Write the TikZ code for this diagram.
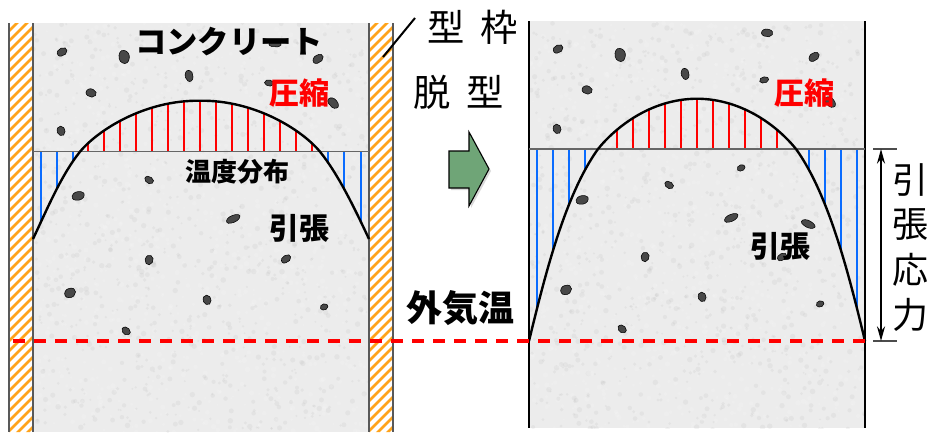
\documentclass[tikz,border=0pt]{standalone}
\usepackage{fontspec}
\usetikzlibrary{arrows.meta}
\setmainfont{Noto Sans CJK JP}
\definecolor{concrete}{HTML}{ECECEC}
\definecolor{stonefill}{HTML}{484848}
\definecolor{hatchorange}{HTML}{FFA31A}
\definecolor{arrowgreen}{HTML}{6FA577}
\definecolor{compblue}{HTML}{0A6CFF}
\tikzset{
  labelbig/.style={inner sep=0pt,font=\fontsize{28}{28}\selectfont},
  labelbold/.style={inner sep=0pt,font=\bfseries\fontsize{22.5}{22.5}\selectfont},
  redlabel/.style={labelbold,text=red},
  redtick/.style={red,line width=1.7},
  bluetick/.style={compblue,line width=1.7},
  tempcurve/.style={black,line width=1.8},
  zeroline/.style={black!60,line width=1},
  outerair/.style={red,line width=2.5,dash pattern=on 9pt off 6.75pt},
  wallline/.style={black,line width=1.6},
}
\newcommand{\stone}[5]{\fill[stonefill,draw=black,line width=0.4,shift={(#1,#2)},rotate={-1*(#5)},xscale=#3,yscale=#4] plot[smooth cycle,tension=0.8] coordinates {(-1,0.15)(-0.65,-0.8)(0.2,-1)(0.95,-0.5)(1,0.3)(0.4,0.95)(-0.5,0.85)};}
\newcommand{\speckle}[4]{%
  \pgfmathsetseed{#4}%
  \foreach \i in {1,...,2000}{%
    \pgfmathsetmacro{\px}{#1+rnd*#3}%
    \pgfmathsetmacro{\py}{23+rnd*#2}%
    \pgfmathsetmacro{\rr}{1+rnd*1.8}%
    \pgfmathsetmacro{\shade}{rnd>0.5?35:0}%
    \fill[black!\shade!white,opacity=0.12] (\px,\py) circle[radius=\rr];%
  }%
}
\def\leftU{(33,239) .. controls (48,207) and (62,174) .. (80,151.7)}
\def\leftTop{(80,151.7) .. controls (98,130) and (145,100) .. (200,100.7) .. controls (255,100) and (302,130) .. (320,151.7)}
\def\leftD{(320,151.7) .. controls (338,174) and (354,207) .. (369,239)}
\def\rightU{(529,341) .. controls (545,275) and (565,195) .. (598,149)}
\def\rightTop{(598,149) .. controls (615,128) and (650,99) .. (697,98.7) .. controls (744,99) and (779,128) .. (796,149)}
\def\rightD{(796,149) .. controls (829,195) and (849,275) .. (865,341)}
\begin{document}
\begin{tikzpicture}[x=0.75pt,y=-0.75pt]
\useasboundingbox (0,0) rectangle (930,432);
% left formwork
\begin{scope}
  \clip (9,23) rectangle (33,432) (369,23) rectangle (393,432);
  \fill[white] (0,0) rectangle (400,432);
  \foreach \k in {0,...,90}{
    \draw[hatchorange,line width=2] (0,{10*\k}) -- (40,{10*\k-40});
    \draw[hatchorange,line width=2] (360,{10*\k}) -- (400,{10*\k-40});
  }
\end{scope}
\draw[black!65,line width=0.9] (9,23) -- (9,432) (393,23) -- (393,432);
% concrete panels
\fill[concrete] (33,23) rectangle (369,432);
\fill[concrete] (529,21) rectangle (865,428);
\begin{scope}
  \clip (33,23) rectangle (369,432);
  \speckle{33}{409}{336}{11}
\end{scope}
\begin{scope}
  \clip (529,21) rectangle (865,428);
  \speckle{529}{407}{336}{29}
\end{scope}
\draw[black!65,line width=0.9] (33,23) -- (33,432) (369,23) -- (369,432);
\draw[wallline] (529,21) -- (529,428) (865,21) -- (865,428);
% stones left
\stone{62}{52}{5}{3.8}{-30}
\stone{124}{57}{5}{6.5}{-10}
\stone{318}{59}{5.5}{3.8}{-35}
\stone{275}{44}{6}{3}{0}
\stone{189}{76}{3.8}{5.5}{-10}
\stone{91}{93}{5}{4}{15}
\stone{269}{83}{4.5}{3}{10}
\stone{333}{103}{6}{4}{45}
\stone{61}{131}{3.8}{4.8}{-15}
\stone{149}{180}{4.5}{3.3}{30}
\stone{78}{196}{6}{4.2}{-15}
\stone{233}{219}{7}{3.4}{-25}
\stone{149}{260}{3.8}{4.8}{15}
\stone{286}{259}{5}{3.5}{-35}
\stone{70}{293}{5.5}{4.5}{-25}
\stone{207}{300}{3.8}{4.8}{-15}
\stone{324}{307}{3.8}{3}{-20}
\stone{126}{331}{4.5}{3.5}{40}
% stones right
\stone{558}{49}{5}{3.8}{-30}
\stone{620}{55}{5}{6.5}{-10}
\stone{767}{33}{5.5}{3.8}{5}
\stone{814}{57}{5.5}{3.8}{-35}
\stone{685}{74}{3.8}{5.5}{-10}
\stone{587}{90}{5}{4}{15}
\stone{764}{80}{4.5}{3}{-15}
\stone{830}{102}{6}{4}{45}
\stone{557}{129}{3.8}{4.8}{-15}
\stone{741}{168}{4}{3}{-25}
\stone{669}{185}{4.5}{3.3}{30}
\stone{582}{200}{6}{4.2}{-15}
\stone{731}{218}{7}{3.4}{-25}
\stone{808}{224}{7}{3.4}{25}
\stone{782}{257}{4.8}{3.4}{-30}
\stone{645}{257}{3.8}{4.8}{15}
\stone{566}{290}{5.5}{4.5}{-25}
\stone{702}{297}{3.8}{4.8}{-15}
\stone{820}{304}{3.8}{3}{-20}
\stone{622}{329}{4.5}{3.5}{40}
% left distribution
\begin{scope}
  \clip \leftTop -- cycle;
  \foreach \k in {-7,...,7}{\draw[redtick] ({200+16*\k},151.7) -- ({200+16*\k},90);}
\end{scope}
\begin{scope}
  \clip \leftU -- (33,151.7) -- cycle \leftD -- (369,151.7) -- cycle;
  \foreach \x in {40.7,56.7,72.7,328.3,344.3,360.7}{\draw[bluetick] (\x,151.7) -- (\x,240);}
\end{scope}
\draw[zeroline] (33,151.7) -- (369,151.7);
\draw[tempcurve] \leftU;
\draw[tempcurve] \leftTop;
\draw[tempcurve] \leftD;
% right distribution
\begin{scope}
  \clip \rightTop -- cycle;
  \foreach \k in {-5,...,5}{\draw[redtick] ({697+16*\k},149) -- ({697+16*\k},90);}
\end{scope}
\begin{scope}
  \clip \rightU -- (529,149) -- cycle \rightD -- (865,149) -- cycle;
  \foreach \x in {537,553,569,585,809.3,825.3,841.3,857.3}{\draw[bluetick] (\x,149) -- (\x,341);}
\end{scope}
\draw[zeroline] (529,149) -- (865,149);
\draw[tempcurve] \rightU;
\draw[tempcurve] \rightTop;
\draw[tempcurve] \rightD;
% outer air line
\draw[outerair] (13,341) -- (865,341);
% formwork pointer
\coordinate (ptrA) at (415,18);
\coordinate (ptrB) at (383,57);
\draw[black,line width=1.5] (ptrA) -- (ptrB);
% block arrow
\fill[black!15] (451,153) -- (471,153) -- (471,134) -- (491,171) -- (471,208) -- (471,190) -- (451,190) -- cycle;
\draw[black,line width=0.8,fill=arrowgreen] (449,151) -- (469,151) -- (469,132) -- (489,169) -- (469,206) -- (469,188) -- (449,188) -- cycle;
% tension range
\coordinate (rngT) at (881,149);
\coordinate (rngB) at (881,341);
\draw[black!70,line width=1] (873,149) -- (897,149) (873,341) -- (897,341);
\draw[black,line width=1.5,{Stealth[length=11pt,width=6pt]}-{Stealth[length=11pt,width=6pt]}] (rngT) -- (rngB);
% labels
\node[labelbold,font=\bfseries\fontsize{23.5}{23.5}\selectfont] (tConc) at (229,42) {コンクリート};
\node[labelbig] (tKata) at (446,27) {型};
\node[labelbig] (tWaku) at (499,27) {枠};
\node[labelbig] (tDa) at (432,92) {脱};
\node[labelbig] (tGata) at (485,92) {型};
\node[redlabel] (tAshL) at (299,93) {圧縮};
\node[redlabel] (tAshR) at (804,93) {圧縮};
\node[labelbold,font=\bfseries\fontsize{19.5}{19.5}\selectfont] (tTemp) at (237.5,172) {温度分布};
\node[labelbold] (tHikL) at (299,228) {引張};
\node[labelbold] (tHikR) at (780,246) {引張};
\node[labelbold,font=\bfseries\fontsize{27}{27}\selectfont] (tAir) at (460,308) {外気温};
\node[labelbig,font=\fontsize{27}{27}\selectfont] (tS1) at (910,180) {引};
\node[labelbig,font=\fontsize{27}{27}\selectfont] (tS2) at (910,225) {張};
\node[labelbig,font=\fontsize{27}{27}\selectfont] (tS3) at (910,270) {応};
\node[labelbig,font=\fontsize{27}{27}\selectfont] (tS4) at (910,315) {力};
\end{tikzpicture}
\end{document}
